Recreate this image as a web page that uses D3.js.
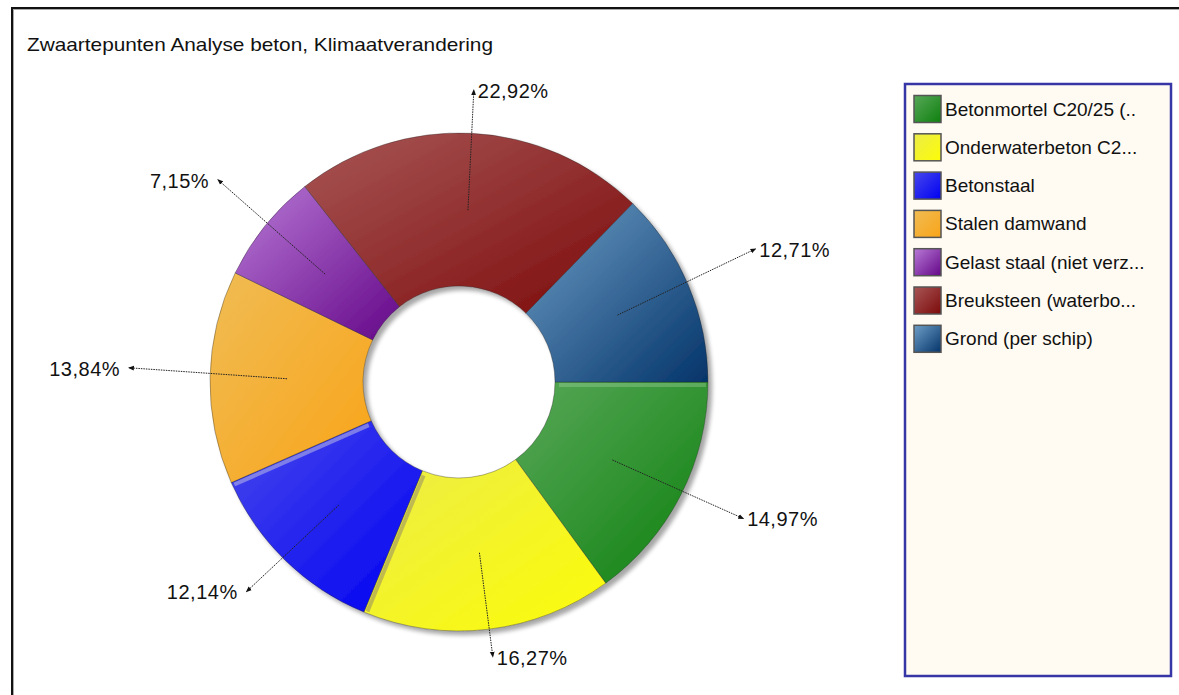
<!DOCTYPE html>
<html><head><meta charset="utf-8">
<script src="https://cdn.jsdelivr.net/npm/d3@7"></script>
<style>body{margin:0;background:#fff}svg{display:block}</style>
</head><body><svg id="c" width="1179" height="695"></svg>
<script>
const title = "Zwaartepunten Analyse beton, Klimaatverandering";
const categories = ["Betonmortel C20/25 (..", "Onderwaterbeton C2...", "Betonstaal", "Stalen damwand",
  "Gelast staal (niet verz...", "Breuksteen (waterbo...", "Grond (per schip)"];
const values = [14.97, 16.27, 12.14, 13.84, 7.15, 22.92, 12.71];
const lightColors = ["#58a858", "#ecec48", "#4848ec", "#f0bc54", "#b87ad6", "#a85656", "#6e9ec6"];
const darkColors  = ["#0e800e", "#fcfc08", "#0000f2", "#f9a418", "#640688", "#7c0a0a", "#04346a"];

const svg = d3.select("#c");
const W = 1179, H = 695;
const cx = 459, cy = 382, rOut = 249, rIn = 96, rMid = 172;
const ellA = 330, ellB = 284, labelCyShift = -8;

const defs = svg.append("defs");
const f = defs.append("filter").attr("id", "shadow").attr("x", "-20%").attr("y", "-20%").attr("width", "140%").attr("height", "140%");
f.append("feGaussianBlur").attr("in", "SourceAlpha").attr("stdDeviation", 2).attr("result", "b");
f.append("feOffset").attr("in", "b").attr("dx", 4).attr("dy", 4).attr("result", "o");
f.append("feComponentTransfer").attr("in", "o").attr("result", "s")
  .append("feFuncA").attr("type", "linear").attr("slope", 0.35);
const m = f.append("feMerge");
m.append("feMergeNode").attr("in", "s");
m.append("feMergeNode").attr("in", "SourceGraphic");

values.forEach((v, i) => {
  const g = defs.append("linearGradient").attr("id", "g" + i)
    .attr("x1", 0).attr("y1", 0).attr("x2", 1).attr("y2", 1);
  g.append("stop").attr("offset", "0%").attr("stop-color", lightColors[i]);
  g.append("stop").attr("offset", "100%").attr("stop-color", darkColors[i]);
});
defs.append("marker").attr("id", "arr").attr("viewBox", "0 0 10 10").attr("refX", 8).attr("refY", 5)
  .attr("markerWidth", 6).attr("markerHeight", 6).attr("orient", "auto")
  .append("path").attr("d", "M0,1 L10,5 L0,9 Z").attr("fill", "#111");

// frame
svg.append("rect").attr("x", 0).attr("y", 0).attr("width", W).attr("height", H).attr("fill", "#fff");
svg.append("line").attr("x1", 11).attr("x2", W).attr("y1", 8).attr("y2", 8).attr("stroke", "#111").attr("stroke-width", 2);
svg.append("line").attr("x1", 11).attr("x2", W).attr("y1", 9.5).attr("y2", 9.5).attr("stroke", "#aaa").attr("stroke-width", 1);
svg.append("line").attr("x1", 12).attr("x2", 12).attr("y1", 7).attr("y2", H).attr("stroke", "#111").attr("stroke-width", 2);
svg.append("line").attr("x1", 13.5).attr("x2", 13.5).attr("y1", 9).attr("y2", H).attr("stroke", "#aaa").attr("stroke-width", 1);

svg.append("text").attr("x", 27).attr("y", 51).text(title)
  .attr("font-family", "Liberation Sans, Arial, sans-serif").attr("font-size", 18.5).attr("fill", "#111")
  .attr("textLength", 466).attr("lengthAdjust", "spacingAndGlyphs");

// pie
const pie = d3.pie().sort(null).startAngle(Math.PI / 2).endAngle(Math.PI / 2 + 2 * Math.PI);
const arcs = pie(values);
const arc = d3.arc().innerRadius(rIn).outerRadius(rOut);
const gPie = svg.append("g").attr("transform", `translate(${cx},${cy})`);
const gSl = gPie.append("g").attr("filter", "url(#shadow)");
gSl.selectAll("path").data(arcs).join("path")
  .attr("d", arc).attr("fill", (d, i) => `url(#g${i})`)
  .attr("stroke", "rgba(40,40,40,0.45)").attr("stroke-width", 0.8);

// bevel strips on a few edges
function pt(r, a) { return [r * Math.sin(a), -r * Math.cos(a)]; }
const strips = [
  { i: 0, edge: "start", color: "rgba(170,215,170,0.35)" },
  { i: 1, edge: "end", color: "rgba(130,120,110,0.45)" },
  { i: 2, edge: "end", color: "rgba(200,200,230,0.5)" }
];
strips.forEach(s => {
  const d = arcs[s.i];
  const a = s.edge === "start" ? d.startAngle : d.endAngle;
  const sign = s.edge === "start" ? 1 : -1;
  const p1 = pt(rIn + 4, a + sign * 3 / (rIn + 4));
  const p2 = pt(rOut - 2, a + sign * 3 / (rOut - 2));
  gPie.append("line").attr("x1", p1[0]).attr("y1", p1[1]).attr("x2", p2[0]).attr("y2", p2[1])
    .attr("stroke", s.color).attr("stroke-width", 4);
});

// labels
const fmt = v => d3.format(".2f")(v).replace(".", ",") + "%";
arcs.forEach((d, i) => {
  const a = (d.startAngle + d.endAngle) / 2;
  const s = Math.sin(a), c = -Math.cos(a);
  const r = ellA * ellB / Math.sqrt((ellB * s) ** 2 + (ellA * c) ** 2);
  const p0 = pt(rMid, a), p1 = pt(r, a);
  p1[1] += labelCyShift;
  gPie.append("line").attr("x1", p0[0]).attr("y1", p0[1]).attr("x2", p1[0]).attr("y2", p1[1])
    .attr("stroke", "#222").attr("stroke-width", 1).attr("stroke-dasharray", "1.5,1")
    .attr("marker-end", "url(#arr)");
  const right = s > -0.05;
  gPie.append("text").attr("x", p1[0] + (right ? 4 : -9)).attr("y", p1[1] + 1)
    .attr("text-anchor", right ? "start" : "end").attr("dominant-baseline", "central")
    .attr("font-family", "Liberation Sans, Arial, sans-serif").attr("font-size", 20)
    .attr("letter-spacing", 0.5).attr("fill", "#111").text(fmt(values[i]));
});

// legend
const lg = svg.append("g");
lg.append("rect").attr("x", 905).attr("y", 84).attr("width", 266).attr("height", 592)
  .attr("fill", "#fffaf2").attr("stroke", "#3636a6").attr("stroke-width", 2.5);
const ly = d3.scaleBand().domain(categories).range([90, 90 + 38.3 * categories.length]);
categories.forEach((cat, i) => {
  const y = ly(cat);
  lg.append("rect").attr("x", 914).attr("y", y + 5.5).attr("width", 27).attr("height", 27)
    .attr("fill", `url(#g${i})`).attr("stroke", "#555").attr("stroke-width", 1.5);
  lg.append("text").attr("x", 945).attr("y", y + 19).attr("dominant-baseline", "central")
    .attr("font-family", "Liberation Sans, Arial, sans-serif").attr("font-size", 19).attr("fill", "#111")
    .text(cat);
});
</script></body></html>
